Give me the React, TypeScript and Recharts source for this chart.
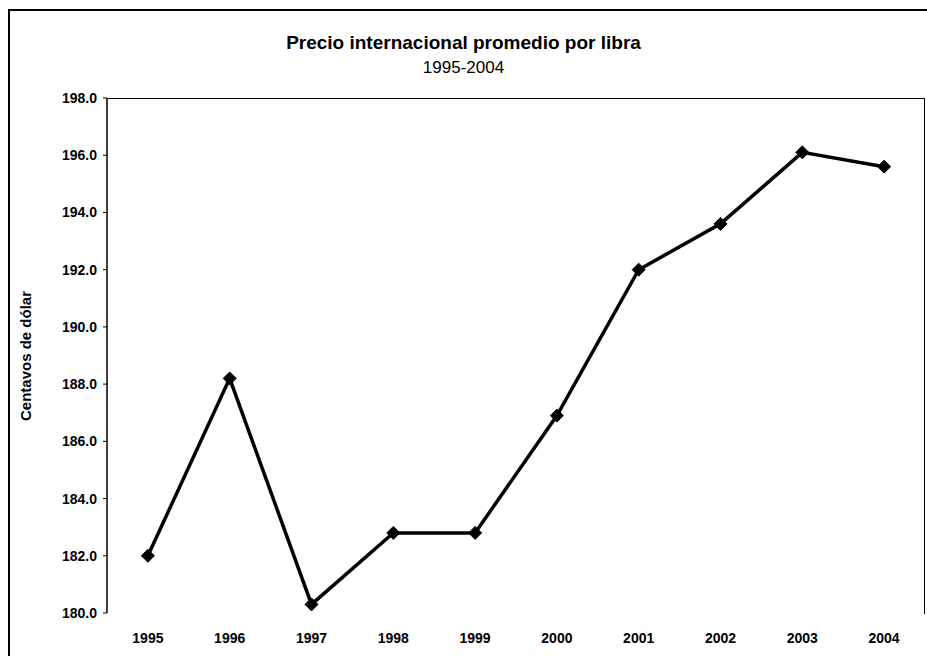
import React from 'react';
import { Line, LineChart, XAxis, YAxis } from 'recharts';

const years = ['1995', '1996', '1997', '1998', '1999', '2000', '2001', '2002', '2003', '2004'];
const prices = [182.0, 188.2, 180.3, 182.8, 182.8, 186.9, 192.0, 193.6, 196.1, 195.6];
const yTicks = [180, 182, 184, 186, 188, 190, 192, 194, 196, 198];
const bandEdges = [0, 1, 2, 3, 4, 5, 6, 7, 8, 9, 10];

// each year sits in the middle of its own band, like a category axis
const data = years.map((year, i) => ({ year, price: prices[i], pos: i + 0.5 }));
const yearTicks = data.map(d => d.pos);

const font = '"Liberation Sans", Arial, sans-serif';

const Diamond = (props: any) => {
  const { cx, cy } = props;
  if (cx == null || cy == null) return null;
  const r = 6.5;
  return (
    <polygon
      points={`${cx},${cy - r} ${cx + r},${cy} ${cx},${cy + r} ${cx - r},${cy}`}
      fill="#000"
      stroke="#000"
    />
  );
};

export default function App() {
  return (
    <div
      style={{
        position: 'absolute',
        left: 0,
        top: 0,
        width: 927,
        height: 656,
        background: '#fff',
        overflow: 'hidden',
        fontFamily: font
      }}
    >
      {/* outer frame */}
      <div
        style={{
          position: 'absolute',
          left: 8,
          top: 9,
          width: 940,
          height: 700,
          borderLeft: '2px solid #000',
          borderTop: '2px solid #000'
        }}
      />
      <div
        style={{
          position: 'absolute',
          left: 0,
          width: 927,
          top: 32,
          textAlign: 'center',
          fontSize: 19,
          fontWeight: 'bold',
          lineHeight: '22px',
          color: '#000'
        }}
      >
        Precio internacional promedio por libra
      </div>
      <div
        style={{
          position: 'absolute',
          left: 0,
          width: 927,
          top: 57,
          textAlign: 'center',
          fontSize: 17,
          lineHeight: '22px',
          color: '#000'
        }}
      >
        1995-2004
      </div>
      <div
        style={{
          position: 'absolute',
          left: 25,
          top: 356,
          transform: 'translate(-50%, -50%) rotate(-90deg)',
          fontSize: 15,
          fontWeight: 'bold',
          whiteSpace: 'nowrap',
          color: '#000'
        }}
      >
        Centavos de dólar
      </div>
      <div style={{ position: 'absolute', left: 0, top: 0 }}>
        <LineChart
          width={927}
          height={656}
          data={data}
          margin={{ top: 98, right: 2, bottom: 13, left: 42 }}
        >
          <XAxis
            xAxisId="edge"
            dataKey="pos"
            type="number"
            domain={[0, 10]}
            ticks={bandEdges}
            height={0}
            axisLine={{ stroke: '#000', strokeWidth: 1.5 }}
            tickSize={5}
            tickLine={{ stroke: '#000' }}
            tickFormatter={() => ''}
            interval={0}
          />
          <XAxis
            xAxisId="yr"
            dataKey="pos"
            type="number"
            domain={[0, 10]}
            ticks={yearTicks}
            height={30}
            axisLine={false}
            tickLine={false}
            tickMargin={14}
            tick={{ fill: '#000', fontSize: 14, fontWeight: 'bold', fontFamily: font }}
            tickFormatter={(v: number) => years[Math.floor(v)]}
            interval={0}
          />
          <YAxis
            domain={[180, 198]}
            ticks={yTicks}
            width={65}
            axisLine={{ stroke: '#000', strokeWidth: 1.5 }}
            tickLine={{ stroke: '#000' }}
            tickSize={4}
            tickMargin={6}
            tick={{ fill: '#000', fontSize: 14, fontWeight: 'bold', fontFamily: font }}
            tickFormatter={(v: number) => v.toFixed(1)}
            interval={0}
          />
          <Line
            xAxisId="yr"
            dataKey="price"
            stroke="#000"
            strokeWidth={3.5}
            dot={<Diamond />}
            activeDot={false}
            isAnimationActive={false}
          />
        </LineChart>
      </div>
      {/* plot area border (top and right) */}
      <div
        style={{
          position: 'absolute',
          left: 107,
          top: 98,
          width: 817,
          height: 515,
          borderTop: '1.5px solid #000',
          borderRight: '1.5px solid #000',
          pointerEvents: 'none'
        }}
      />
    </div>
  );
}
